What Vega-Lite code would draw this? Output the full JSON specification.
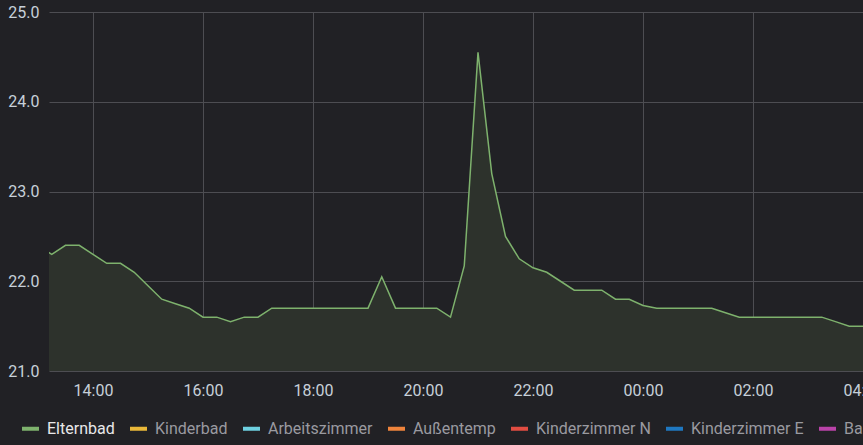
{
  "$schema": "https://vega.github.io/schema/vega-lite/v6.json",
  "autosize": {"type": "none"},
  "padding": {"left": 49, "top": 12, "right": 0, "bottom": 74},
  "width": 814,
  "height": 359,
  "background": "#212125",
  "config": {
    "view": {"stroke": null},
    "font": "Roboto",
    "axis": {"domain": false, "ticks": false, "labelColor": "#c7d0d9", "labelFont": "Roboto", "labelFontSize": 16, "gridColor": "#4d4d52", "gridWidth": 1, "title": null}
  },
  "data": {
    "values": [
      {"hour": 13.0, "series": "Elternbad", "temp": 22.4},
      {"hour": 13.25, "series": "Elternbad", "temp": 22.3},
      {"hour": 13.5, "series": "Elternbad", "temp": 22.4},
      {"hour": 13.75, "series": "Elternbad", "temp": 22.4},
      {"hour": 14.0, "series": "Elternbad", "temp": 22.3},
      {"hour": 14.25, "series": "Elternbad", "temp": 22.2},
      {"hour": 14.5, "series": "Elternbad", "temp": 22.2},
      {"hour": 14.75, "series": "Elternbad", "temp": 22.1},
      {"hour": 15.0, "series": "Elternbad", "temp": 21.95},
      {"hour": 15.25, "series": "Elternbad", "temp": 21.8},
      {"hour": 15.5, "series": "Elternbad", "temp": 21.75},
      {"hour": 15.75, "series": "Elternbad", "temp": 21.7},
      {"hour": 16.0, "series": "Elternbad", "temp": 21.6},
      {"hour": 16.25, "series": "Elternbad", "temp": 21.6},
      {"hour": 16.5, "series": "Elternbad", "temp": 21.55},
      {"hour": 16.75, "series": "Elternbad", "temp": 21.6},
      {"hour": 17.0, "series": "Elternbad", "temp": 21.6},
      {"hour": 17.25, "series": "Elternbad", "temp": 21.7},
      {"hour": 17.5, "series": "Elternbad", "temp": 21.7},
      {"hour": 17.75, "series": "Elternbad", "temp": 21.7},
      {"hour": 18.0, "series": "Elternbad", "temp": 21.7},
      {"hour": 18.25, "series": "Elternbad", "temp": 21.7},
      {"hour": 18.5, "series": "Elternbad", "temp": 21.7},
      {"hour": 18.75, "series": "Elternbad", "temp": 21.7},
      {"hour": 19.0, "series": "Elternbad", "temp": 21.7},
      {"hour": 19.25, "series": "Elternbad", "temp": 22.05},
      {"hour": 19.5, "series": "Elternbad", "temp": 21.7},
      {"hour": 19.75, "series": "Elternbad", "temp": 21.7},
      {"hour": 20.0, "series": "Elternbad", "temp": 21.7},
      {"hour": 20.25, "series": "Elternbad", "temp": 21.7},
      {"hour": 20.5, "series": "Elternbad", "temp": 21.6},
      {"hour": 20.75, "series": "Elternbad", "temp": 22.17},
      {"hour": 21.0, "series": "Elternbad", "temp": 24.55},
      {"hour": 21.25, "series": "Elternbad", "temp": 23.2},
      {"hour": 21.5, "series": "Elternbad", "temp": 22.5},
      {"hour": 21.75, "series": "Elternbad", "temp": 22.25},
      {"hour": 22.0, "series": "Elternbad", "temp": 22.15},
      {"hour": 22.25, "series": "Elternbad", "temp": 22.1},
      {"hour": 22.5, "series": "Elternbad", "temp": 22.0},
      {"hour": 22.75, "series": "Elternbad", "temp": 21.9},
      {"hour": 23.0, "series": "Elternbad", "temp": 21.9},
      {"hour": 23.25, "series": "Elternbad", "temp": 21.9},
      {"hour": 23.5, "series": "Elternbad", "temp": 21.8},
      {"hour": 23.75, "series": "Elternbad", "temp": 21.8},
      {"hour": 24.0, "series": "Elternbad", "temp": 21.73},
      {"hour": 24.25, "series": "Elternbad", "temp": 21.7},
      {"hour": 24.5, "series": "Elternbad", "temp": 21.7},
      {"hour": 24.75, "series": "Elternbad", "temp": 21.7},
      {"hour": 25.0, "series": "Elternbad", "temp": 21.7},
      {"hour": 25.25, "series": "Elternbad", "temp": 21.7},
      {"hour": 25.5, "series": "Elternbad", "temp": 21.65},
      {"hour": 25.75, "series": "Elternbad", "temp": 21.6},
      {"hour": 26.0, "series": "Elternbad", "temp": 21.6},
      {"hour": 26.25, "series": "Elternbad", "temp": 21.6},
      {"hour": 26.5, "series": "Elternbad", "temp": 21.6},
      {"hour": 26.75, "series": "Elternbad", "temp": 21.6},
      {"hour": 27.0, "series": "Elternbad", "temp": 21.6},
      {"hour": 27.25, "series": "Elternbad", "temp": 21.6},
      {"hour": 27.5, "series": "Elternbad", "temp": 21.55},
      {"hour": 27.75, "series": "Elternbad", "temp": 21.5},
      {"hour": 28.0, "series": "Elternbad", "temp": 21.5},
      {"hour": 28.25, "series": "Elternbad", "temp": 21.5}
    ]
  },
  "encoding": {
    "x": {
      "field": "hour",
      "type": "quantitative",
      "scale": {"domain": [13.2, 28.0], "zero": false, "nice": false},
      "axis": {"values": [14, 16, 18, 20, 22, 24, 26, 28], "labelExpr": "(datum.value % 24 < 10 ? '0' : '') + (datum.value % 24) + ':00'", "labelPadding": 11, "labelFlush": false}
    },
    "y": {
      "field": "temp",
      "type": "quantitative",
      "scale": {"domain": [21, 25], "zero": false, "nice": false},
      "axis": {"values": [21, 22, 23, 24, 25], "format": ".1f", "labelPadding": 10}
    }
  },
  "layer": [
    {
      "mark": {"type": "area", "clip": true, "fill": "#2d322c"},
      "encoding": {"y2": {"datum": 21}}
    },
    {
      "mark": {"type": "line", "clip": true, "strokeWidth": 1.5},
      "encoding": {
        "color": {
          "field": "series",
          "type": "nominal",
          "scale": {
            "domain": ["Elternbad", "Kinderbad", "Arbeitszimmer", "Außentemp", "Kinderzimmer N", "Kinderzimmer E", "Bad"],
            "range": ["#7EB26D", "#EAB839", "#6ED0E0", "#EF843C", "#E24D42", "#1F78C1", "#BA43A9"]
          },
          "legend": {
            "orient": "none",
            "legendX": -29,
            "legendY": 406,
            "direction": "horizontal",
            "title": null,
            "symbolType": "stroke",
            "symbolSize": 289,
            "symbolStrokeWidth": 4,
            "labelFont": "Roboto",
            "labelFontSize": 16,
            "labelOffset": 6,
            "columnPadding": 7,
            "labelLimit": 300,
            "labelColor": "#9a9aa0",
            "encode": {"labels": {"update": {"fill": [{"test": "datum.label === 'Elternbad'", "value": "#e8e8ea"}, {"value": "#9a9aa0"}]}}}
          }
        }
      }
    }
  ]
}
